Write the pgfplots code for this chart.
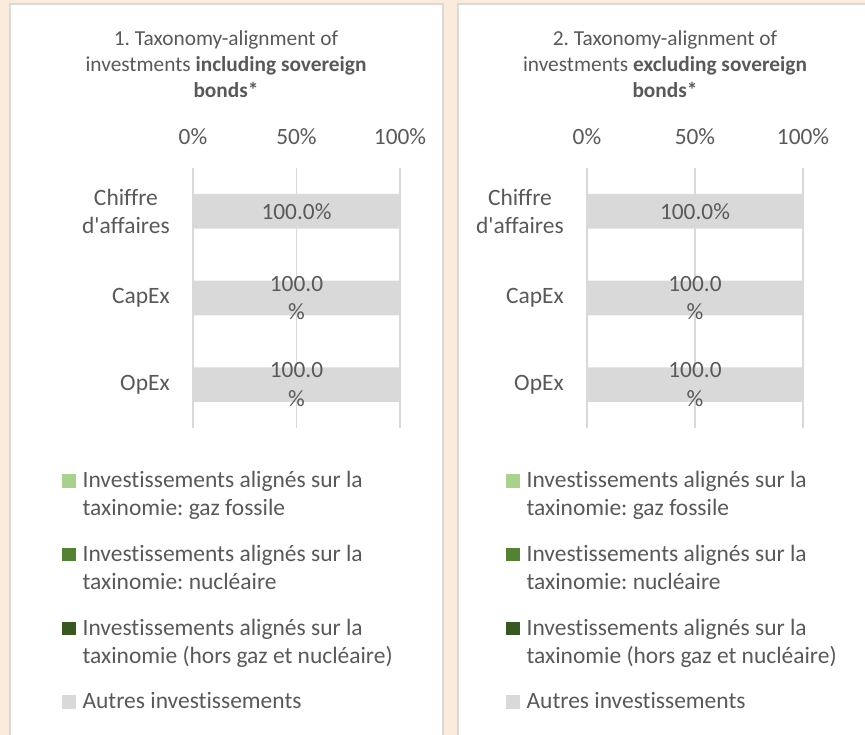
\documentclass[border=0pt]{standalone}
\usepackage{fontspec}
\setmainfont{Carlito}[Ligatures={TeXOff,NoCommon}]
\usepackage{pgfplots}
\usepackage{pgfplotstable}
\pgfplotsset{compat=1.18}
\frenchspacing
\definecolor{bgc}{RGB}{251,235,220}
\definecolor{bordc}{RGB}{217,217,217}
\definecolor{gridc}{RGB}{217,217,217}
\definecolor{txt}{RGB}{89,89,89}
\definecolor{gaz}{RGB}{169,209,142}
\definecolor{nuc}{RGB}{84,130,53}
\definecolor{hors}{RGB}{56,87,35}
\definecolor{autres}{RGB}{217,217,217}

\pgfplotstableread{
cat gaz nuc hors autres lab
0 0 0 0 100 {100.0\%}
1 0 0 0 100 {100.0\\\%}
2 0 0 0 100 {100.0\\\%}
}\tabincl
\pgfplotstableread{
cat gaz nuc hors autres lab
0 0 0 0 100 {100.0\%}
1 0 0 0 100 {100.0\\\%}
2 0 0 0 100 {100.0\\\%}
}\tabexcl

\pgfplotsset{
  panel/.style={
    scale only axis, anchor=south west,
    height=195pt,
    xmin=0, xmax=100, ymin=-0.5, ymax=2.5, y dir=reverse,
    xtick={0,50,100}, xticklabels={0\%,50\%,100\%},
    ytick={0,1,2}, yticklabels={{Chiffre\\d'affaires},CapEx,OpEx},
    xticklabel pos=upper,
    axis line style={draw=none},
    major tick length=0pt,
    xmajorgrids, ymajorgrids=false,
    grid style={draw=gridc, line width=1.1pt},
    xticklabel style={font=\fontsize{17.5}{21}\selectfont, text=txt, anchor=base, inner sep=0pt, yshift=17.6pt},
    yticklabel style={font=\fontsize{17.6}{21}\selectfont, text=txt, align=center, anchor=east, inner sep=0pt, xshift=-17.25pt},
    clip=false,
    unbounded coords=discard,
    legend style={draw=none, fill=none, inner sep=0pt, anchor=north west,
      font=\fontsize{17.6}{21}\selectfont, text=txt, row sep=17.85pt, column sep=5.25pt,
      cells={anchor=north west}, nodes={align=left, inner sep=0pt}},
    legend image code/.code={\fill[##1, draw=none] (0pt,-14.7pt) rectangle (10pt,-4.7pt);},
  },
  barser/.style={xbar, bar width=0.4, bar shift=0pt, draw=none, fill=#1,
    x filter/.expression={x<=0 ? nan : x}},
  labser/.style={forget plot, draw=none, mark=none, nodes near coords, point meta=explicit symbolic,
    nodes near coords align={center},
    nodes near coords style={anchor=center, align=center, inner sep=0pt, font=\fontsize{17.5}{21.5}\selectfont, text=txt}},
}

\begin{document}
\begin{tikzpicture}
\useasboundingbox (0,0) rectangle (648.75pt,551.25pt);
\begin{scope}
\clip (0,0) rectangle (648.75pt,551.25pt);
\fill[bgc] (0,0) rectangle (648.75pt,551.25pt);
\filldraw[fill=white, draw=bordc, line width=1.5pt] (7.5pt,-20pt) rectangle (332pt,548.25pt);
\filldraw[fill=white, draw=bordc, line width=1.5pt] (343.4pt,-20pt) rectangle (680pt,548.25pt);

\node[align=center, font=\fontsize{16}{19.5}\selectfont, text=txt] at (169.5pt,503.25pt)
  {1. Taxonomy-alignment of\\investments \textbf{including sovereign}\\\textbf{bonds*}};
\node[align=center, font=\fontsize{16}{19.5}\selectfont, text=txt] at (498.75pt,503.25pt)
  {2. Taxonomy-alignment of\\investments \textbf{excluding sovereign}\\\textbf{bonds*}};

\begin{axis}[panel, width=155.25pt, at={(144.75pt,230.25pt)},
  legend style={at={(-0.6329,-0.1527)}}]
  \addplot[barser=gaz, forget plot] table[x=gaz, y=cat] {\tabincl};
  \addplot[barser=nuc, forget plot] table[x=nuc, y=cat] {\tabincl};
  \addplot[barser=hors, forget plot] table[x=hors, y=cat] {\tabincl};
  \addlegendimage{fill=gaz, draw=none}
  \addlegendentry{Investissements alignés sur la\strut\\taxinomie: gaz fossile\strut}
  \addlegendimage{fill=nuc, draw=none}
  \addlegendentry{Investissements alignés sur la\strut\\taxinomie: nucléaire\strut}
  \addlegendimage{fill=hors, draw=none}
  \addlegendentry{Investissements alignés sur la\strut\\taxinomie (hors gaz et nucléaire)\strut}
  \addplot[barser=autres] table[x=autres, y=cat] {\tabincl};
  \addlegendentry{Autres investissements\strut}
  \addplot[labser] table[x expr=\thisrow{autres}/2, y=cat, meta=lab] {\tabincl};
\end{axis}

\begin{axis}[panel, width=162pt, at={(440.25pt,230.25pt)},
  legend style={at={(-0.375,-0.1527)}}]
  \addplot[barser=gaz, forget plot] table[x=gaz, y=cat] {\tabexcl};
  \addplot[barser=nuc, forget plot] table[x=nuc, y=cat] {\tabexcl};
  \addplot[barser=hors, forget plot] table[x=hors, y=cat] {\tabexcl};
  \addlegendimage{fill=gaz, draw=none}
  \addlegendentry{Investissements alignés sur la\strut\\taxinomie: gaz fossile\strut}
  \addlegendimage{fill=nuc, draw=none}
  \addlegendentry{Investissements alignés sur la\strut\\taxinomie: nucléaire\strut}
  \addlegendimage{fill=hors, draw=none}
  \addlegendentry{Investissements alignés sur la\strut\\taxinomie (hors gaz et nucléaire)\strut}
  \addplot[barser=autres] table[x=autres, y=cat] {\tabexcl};
  \addlegendentry{Autres investissements\strut}
  \addplot[labser] table[x expr=\thisrow{autres}/2, y=cat, meta=lab] {\tabexcl};
\end{axis}
\end{scope}
\end{tikzpicture}
\end{document}
